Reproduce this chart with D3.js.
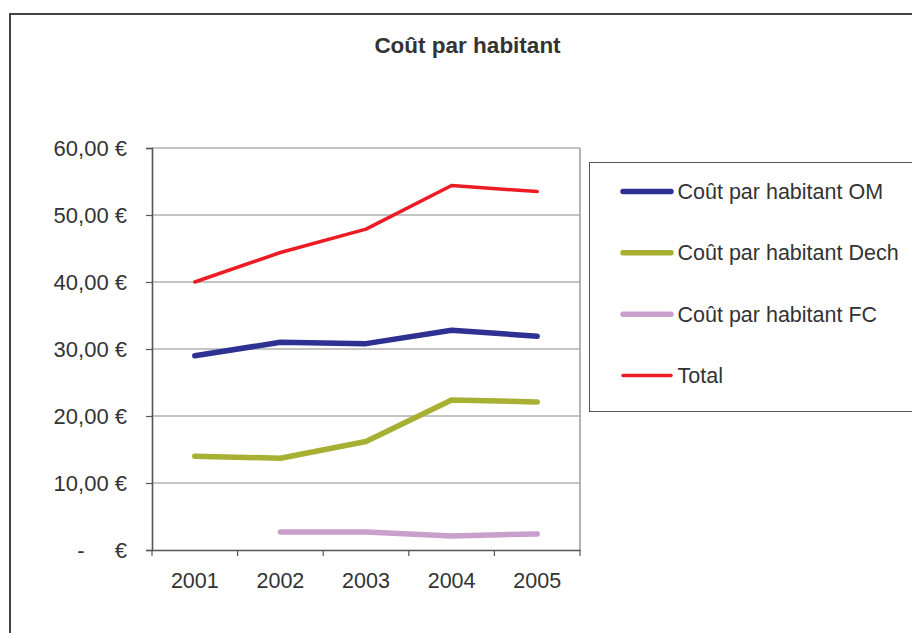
<!DOCTYPE html>
<html>
<head>
<meta charset="utf-8">
<script src="https://cdn.jsdelivr.net/npm/d3@7"></script>
<style>
  html, body { margin: 0; padding: 0; background: #fff; }
  svg { display: block; font-family: "Liberation Sans", Arial, sans-serif; }
</style>
</head>
<body>
<svg id="chart" width="912" height="633"></svg>
<script>
const title = "Coût par habitant";
const years = ["2001", "2002", "2003", "2004", "2005"];
const yTicks = [0, 10, 20, 30, 40, 50, 60];
const seriesNames = ["Coût par habitant OM", "Coût par habitant Dech", "Coût par habitant FC", "Total"];
const omValues = [29.0, 31.0, 30.8, 32.8, 31.9];
const dechValues = [14.0, 13.7, 16.2, 22.4, 22.1];
const fcValues = [null, 2.7, 2.7, 2.1, 2.4];
const totalValues = [40.0, 44.4, 47.9, 54.4, 53.5];
const seriesColors = ["#2e3192", "#a8b034", "#c9a0cc", "#ed1c24"];
const seriesWidths = [5.5, 5.5, 5.5, 3.5];

const series = seriesNames.map((name, i) => ({
  name,
  color: seriesColors[i],
  width: seriesWidths[i],
  values: [omValues, dechValues, fcValues, totalValues][i]
}));

const svg = d3.select("#chart");
const labelSize = 21.5;

// outer frame
svg.append("rect")
  .attr("x", 10).attr("y", 14)
  .attr("width", 940).attr("height", 660)
  .attr("fill", "#fff").attr("stroke", "#444").attr("stroke-width", 2);

svg.append("text")
  .attr("x", 467.5).attr("y", 53)
  .attr("text-anchor", "middle")
  .attr("font-size", 22.5).attr("font-weight", "bold")
  .attr("fill", "#333")
  .text(title);

const plot = { left: 152, right: 580, top: 148, bottom: 550 };

const x = d3.scaleBand().domain(years).range([plot.left, plot.right]).padding(0);
const y = d3.scaleLinear().domain([0, 60]).range([plot.bottom, plot.top]);

// gridlines
svg.append("g")
  .selectAll("line")
  .data(yTicks.filter(d => d > 0))
  .join("line")
  .attr("x1", plot.left).attr("x2", plot.right)
  .attr("y1", d => y(d)).attr("y2", d => y(d))
  .attr("stroke", "#8a8a8a").attr("stroke-width", 1);

// right border of plot area
svg.append("line")
  .attr("x1", plot.right).attr("x2", plot.right)
  .attr("y1", plot.top).attr("y2", plot.bottom)
  .attr("stroke", "#a09a98").attr("stroke-width", 1.5);

const fmt = d3.formatLocale({ decimal: ",", thousands: " ", grouping: [3], currency: ["", " €"] }).format(".2f");

// y axis
const yAxis = svg.append("g")
  .attr("transform", `translate(${plot.left},0)`)
  .call(d3.axisLeft(y).tickValues(yTicks).tickSize(6).tickPadding(19)
    .tickFormat(d => d === 0 ? "€" : fmt(d) + " €"));
yAxis.select(".domain").attr("stroke", "#555").attr("stroke-width", 1.6);
yAxis.selectAll(".tick line").attr("stroke", "#555").attr("stroke-width", 1.2);
yAxis.selectAll(".tick text")
  .attr("font-size", 22).attr("fill", "#333")
  .attr("font-family", "Liberation Sans, Arial, sans-serif");
yAxis.selectAll(".tick").filter(d => d === 0)
  .append("text")
  .attr("x", -71).attr("dy", "0.32em")
  .attr("text-anchor", "middle")
  .attr("font-size", 22).attr("fill", "#333")
  .attr("font-family", "Liberation Sans, Arial, sans-serif")
  .text("-");

// x axis
const xAxis = svg.append("g")
  .attr("transform", `translate(0,${plot.bottom})`)
  .call(d3.axisBottom(x).tickSize(0).tickPadding(23));
xAxis.select(".domain").attr("stroke", "#555").attr("stroke-width", 1.6);
xAxis.selectAll(".tick text")
  .attr("font-size", labelSize).attr("fill", "#333")
  .attr("font-family", "Liberation Sans, Arial, sans-serif");
// tick marks between categories
const boundaries = years.map(d => x(d)).concat([x(years[years.length - 1]) + x.bandwidth()]);
svg.append("g")
  .selectAll("line")
  .data(boundaries)
  .join("line")
  .attr("x1", d => d).attr("x2", d => d)
  .attr("y1", plot.bottom).attr("y2", plot.bottom + 6)
  .attr("stroke", "#555").attr("stroke-width", 1.2);

// lines
const line = d3.line()
  .defined(d => d.v != null)
  .x(d => x(d.year) + x.bandwidth() / 2)
  .y(d => y(d.v));

svg.append("g")
  .selectAll("path")
  .data(series)
  .join("path")
  .attr("d", s => line(s.values.map((v, i) => ({ year: years[i], v }))))
  .attr("fill", "none")
  .attr("stroke", s => s.color)
  .attr("stroke-width", s => s.width)
  .attr("stroke-linecap", "round")
  .attr("stroke-linejoin", "round");

// legend
svg.append("rect")
  .attr("x", 589.5).attr("y", 162.5)
  .attr("width", 340).attr("height", 249)
  .attr("fill", "#fff").attr("stroke", "#555").attr("stroke-width", 1);

const legendY = d3.scalePoint().domain(seriesNames).range([191.5, 375.5]);
const lg = svg.append("g")
  .selectAll("g")
  .data(series)
  .join("g")
  .attr("transform", s => `translate(0,${legendY(s.name)})`);
lg.append("line")
  .attr("x1", 623).attr("x2", 671)
  .attr("stroke", s => s.color)
  .attr("stroke-width", s => s.width)
  .attr("stroke-linecap", "round");
lg.append("text")
  .attr("x", 677.5).attr("dy", "0.35em")
  .attr("font-size", labelSize).attr("fill", "#333")
  .text(s => s.name);
</script>
</body>
</html>
